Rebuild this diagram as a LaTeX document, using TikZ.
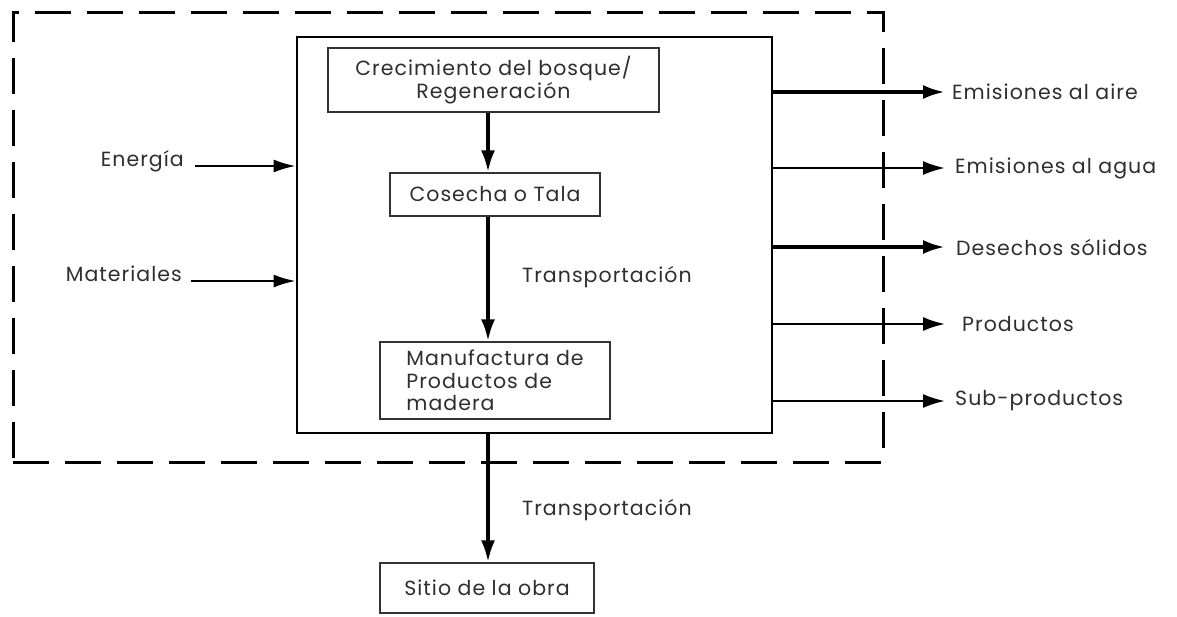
\documentclass[tikz,border=0pt]{standalone}
\usepackage{fontspec}
\setmainfont[LetterSpace=5]{Poppins}
\usetikzlibrary{arrows.meta,calc}
\begin{document}
\begin{tikzpicture}[x=1pt,y=-1pt,
  txt/.style={font=\fontsize{20.5}{23}\selectfont, text=black!82, inner sep=0pt},
  pbox/.style={draw=black!80, line width=1.3pt, rectangle, inner sep=0pt, font=\fontsize{20.5}{22.5}\selectfont, text=black!82},
  thick arr/.style={line width=3.8pt, -{Latex[length=22pt,width=14pt]}},
  thin arr/.style={line width=2.2pt, -{Latex[length=22pt,width=14pt]}},
]
\useasboundingbox (0,0) rectangle (1177,616);
% system boundary (dashed) and process box
\node[draw, line width=3pt, dash pattern=on 36pt off 16pt, minimum width=870pt, minimum height=450pt, inner sep=0pt] (bound) at (448,237) {};
\node[draw, line width=2.8pt, minimum width=475pt, minimum height=396pt, inner sep=0pt] (sys) at (534.5,235) {};
% process steps
\node[pbox, minimum width=331pt, minimum height=64pt, align=center] (crec) at (493.5,80) {Crecimiento del bosque/\\Regeneración};
\node[pbox, minimum width=210pt, minimum height=43pt] (cos) at (495,194.5) {Cosecha o Tala};
\node[pbox, minimum width=230pt, minimum height=77pt, align=left] (manu) at (495,380.5) {Manufactura de\\Productos de\\madera};
\node[pbox, minimum width=214pt, minimum height=50pt] (sitio) at (487,588) {Sitio de la obra};
\coordinate (col) at (488,0);
% vertical flow
\draw[thick arr] (crec.south -| col) -- (cos.north -| col);
\draw[thick arr] (cos.south -| col) -- (manu.north -| col);
\draw[thick arr] (sys.south -| col) -- (sitio.north -| col);
\node[txt, anchor=west] (tr1) at (522,277) {Transportación};
\node[txt, anchor=west] (tr2) at (522,510) {Transportación};
% inputs
\node[txt, anchor=base east] (ener) at (184,166) {Energía};
\node[txt, anchor=base east] (mat) at (182,281) {Materiales};
\draw[line width=2.2pt, -{Latex[length=22pt,width=13pt]}] ([xshift=11pt]ener.base east) -- (ener.base east -| sys.west);
\draw[line width=2.2pt, -{Latex[length=22pt,width=13pt]}] ([xshift=9pt]mat.base east) -- (mat.base east -| sys.west);
% outputs
\node[txt, anchor=west] (o1) at (952,92) {Emisiones al aire};
\node[txt, anchor=west] (o2) at (955,168) {Emisiones al agua};
\node[txt, anchor=west] (o3) at (956,247) {Desechos sólidos};
\node[txt, anchor=west] (o4) at (962,324) {Productos};
\node[txt, anchor=west] (o5) at (955,401) {Sub-productos};
\coordinate (tip) at (945,0);
\draw[thick arr] (o1.west -| sys.east) -- (o1.west -| tip);
\draw[thin arr] (o2.west -| sys.east) -- (o2.west -| tip);
\draw[thick arr] (o3.west -| sys.east) -- (o3.west -| tip);
\draw[thin arr] (o4.west -| sys.east) -- (o4.west -| tip);
\draw[thin arr] (o5.west -| sys.east) -- (o5.west -| tip);
\end{tikzpicture}
\end{document}
